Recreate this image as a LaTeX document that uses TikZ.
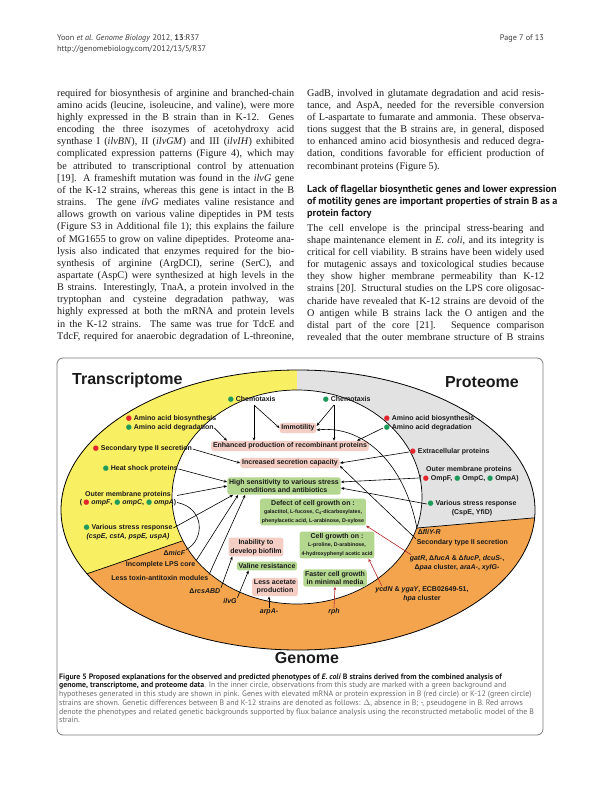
\documentclass[tikz,border=0pt]{standalone}
\usepackage{fontspec}
\setmainfont{Liberation Serif}
\newfontfamily\figsans{Liberation Sans}
\newfontfamily\capsans{PT Sans}
\newfontfamily\dotfont{DejaVu Sans}
\usetikzlibrary{arrows.meta,calc}
\definecolor{ink}{HTML}{1A1A1A}
\definecolor{trayellow}{HTML}{F9EF62}
\definecolor{progray}{HTML}{E2E2E2}
\definecolor{genorange}{HTML}{F4A44D}
\definecolor{hypopink}{HTML}{F4CEC4}
\definecolor{obsgreen}{HTML}{B3D78F}
\definecolor{dotred}{HTML}{E3262E}
\definecolor{dotgreen}{HTML}{1E9B5B}
\definecolor{fbared}{HTML}{B8262B}
\definecolor{framegray}{HTML}{7A7A7A}
\definecolor{capgray}{HTML}{6A6A6A}
% one justified line of the page text
\newcommand\jl[1]{\makebox[237pt][s]{\strut#1}}
\newcommand\rdot{{\dotfont\textcolor{dotred}{●}}}
\newcommand\gdot{{\dotfont\textcolor{dotgreen}{●}}}
\newcommand\subfig{\fontsize{5.3}{6.3}\selectfont}

\begin{document}
\begin{tikzpicture}[x=1pt, y=-1pt,
    arr/.style={-{Stealth[length=3.4pt,width=2.8pt]}, line width=0.6pt},
    fba/.style={arr, fbared},
    lab/.style={font=\figsans\bfseries\fontsize{7}{8.6}\selectfont, inner sep=0.6pt, align=center, text=ink},
    hypo/.style={lab, fill=hypopink, rounded corners=2.5pt, inner sep=1.8pt},
    obs/.style={lab, fill=obsgreen, rounded corners=2.5pt, inner sep=1.8pt},
    title/.style={font=\figsans\bfseries\fontsize{16}{18}\selectfont, inner sep=0pt, text=ink},
    body/.style={font=\fontsize{10.2}{12.15}\selectfont, inner sep=0pt, align=left, anchor=north west, text=ink},
    head/.style={font=\capsans\fontsize{8.2}{11}\selectfont, inner sep=0pt, text=ink!85}]
  % page 600 x 799
  \path[use as bounding box] (0,0) rectangle (600,799);

  % ================= running head =================
  \node[head, anchor=west] (hd1) at (57,38) {Yoon \textit{et al.} \textit{Genome Biology} 2012, \textbf{13}:R37};
  \node[head, anchor=west] (hd2) at (57,49) {http://genomebiology.com/2012/13/5/R37};
  \node[head, anchor=east] (hdp) at (544,38) {Page 7 of 13};

  % ================= left column =================
  \node[body] (colL) at (57,87.5) {%
    \jl{required for biosynthesis of arginine and branched-chain}\\
    \jl{amino acids (leucine, isoleucine, and valine), were more}\\
    \jl{highly expressed in the B strain than in K-12. Genes}\\
    \jl{encoding the three isozymes of acetohydroxy acid}\\
    \jl{synthase I (\textit{ilvBN}), II (\textit{ilvGM}) and III (\textit{ilvIH}) exhibited}\\
    \jl{complicated expression patterns (Figure 4), which may}\\
    \jl{be attributed to transcriptional control by attenuation}\\
    \jl{[19]. A frameshift mutation was found in the \textit{ilvG} gene}\\
    \jl{of the K-12 strains, whereas this gene is intact in the B}\\
    \jl{strains. The gene \textit{ilvG} mediates valine resistance and}\\
    \jl{allows growth on various valine dipeptides in PM tests}\\
    \jl{(Figure S3 in Additional file 1); this explains the failure}\\
    \jl{of MG1655 to grow on valine dipeptides. Proteome ana-}\\
    \jl{lysis also indicated that enzymes required for the bio-}\\
    \jl{synthesis of arginine (ArgDCI), serine (SerC), and}\\
    \jl{aspartate (AspC) were synthesized at high levels in the}\\
    \jl{B strains. Interestingly, TnaA, a protein involved in the}\\
    \jl{tryptophan and cysteine degradation pathway, was}\\
    \jl{highly expressed at both the mRNA and protein levels}\\
    \jl{in the K-12 strains. The same was true for TdcE and}\\
    \jl{TdcF, required for anaerobic degradation of L-threonine,}};

  % ================= right column =================
  \node[body] (colR) at (307,87.5) {%
    \jl{GadB, involved in glutamate degradation and acid resis-}\\
    \jl{tance, and AspA, needed for the reversible conversion}\\
    \jl{of L-aspartate to fumarate and ammonia. These observa-}\\
    \jl{tions suggest that the B strains are, in general, disposed}\\
    \jl{to enhanced amino acid biosynthesis and reduced degra-}\\
    \jl{dation, conditions favorable for efficient production of}\\
    \strut recombinant proteins (Figure 5).};
  \node[body, font=\capsans\bfseries\fontsize{10.2}{12}\selectfont] (sechd) at (307,183.6) {%
    \strut Lack of flagellar biosynthetic genes and lower expression\\
    of motility genes are important properties of strain B as a\\
    protein factory};
  \node[body] (colR2) at (307,222.5) {%
    \jl{The cell envelope is the principal stress-bearing and}\\
    \jl{shape maintenance element in \textit{E. coli}, and its integrity is}\\
    \jl{critical for cell viability. B strains have been widely used}\\
    \jl{for mutagenic assays and toxicological studies because}\\
    \jl{they show higher membrane permeability than K-12}\\
    \jl{strains [20]. Structural studies on the LPS core oligosac-}\\
    \jl{charide have revealed that K-12 strains are devoid of the}\\
    \jl{O antigen while B strains lack the O antigen and the}\\
    \jl{distal part of the core [21]. Sequence comparison}\\
    \jl{revealed that the outer membrane structure of B strains}};

  % ================= figure frame =================
  \draw[framegray, line width=0.8pt, rounded corners=6pt] (57,358) rectangle (543,735);

  % ================= rings: transcriptome / proteome / genome =================
  \begin{scope}
    \clip (298,510) ellipse [x radius=237pt, y radius=140pt];
    \fill[genorange] (40,340) rectangle (560,660);
    \fill[trayellow] (297,340) -- (297,497) -- (185,540) -- (40,590) -- (40,340) -- cycle;
    \fill[progray] (297,340) -- (297,497) -- (417,528) -- (560,515.6) -- (560,340) -- cycle;
    \draw[line width=0.7pt] (185,540) -- (40,590);
    \draw[line width=0.7pt] (417,528) -- (560,515.6);
  \end{scope}
  \fill[white] (297,497) ellipse [x radius=125pt, y radius=107pt];
  \draw[line width=0.7pt] (297,497) ellipse [x radius=125pt, y radius=107pt];
  \draw[line width=0.8pt] (298,510) ellipse [x radius=237pt, y radius=140pt];

  \node[title, anchor=west] (ttrans) at (72,380) {Transcriptome};
  \node[title, anchor=east] (tprot) at (519,382) {Proteome};
  \node[title] (tgen) at (307,658) {Genome};

  % ---- transcriptome side
  \node[lab, anchor=west] (cheL) at (227,399) {\gdot\ Chemotaxis};
  \node[lab, anchor=west] (aabL) at (125,419) {\rdot\ Amino acid biosynthesis};
  \node[lab, anchor=west] (aadL) at (125,428) {\gdot\ Amino acid degradation};
  \node[lab, anchor=west] (secL) at (92,449) {\rdot\ Secondary type II secretion};
  \node[lab, anchor=west] (hspL) at (102,469) {\gdot\ Heat shock proteins};
  \node[lab] (ompL) at (128,498.5) {Outer membrane proteins\\
    (\,\rdot\ \textit{ompF}, \gdot\ \textit{ompC}, \gdot\ \textit{ompA})};
  \node[lab] (strL) at (128,532) {\gdot\ Various stress response\\\textit{(cspE, cstA, pspE, uspA)}};

  % ---- proteome side
  \node[lab, anchor=west] (cheR) at (322,399) {\gdot\ Chemotaxis};
  \node[lab, anchor=west] (aabR) at (383,419) {\rdot\ Amino acid biosynthesis};
  \node[lab, anchor=west] (aadR) at (383,428) {\gdot\ Amino acid degradation};
  \node[lab, anchor=west] (extR) at (409,452) {\rdot\ Extracellular proteins};
  \node[lab] (ompR) at (469,474) {Outer membrane proteins\\(\,\rdot\ OmpF, \gdot\ OmpC, \gdot\ OmpA)};
  \node[lab] (strR) at (472,508) {\gdot\ Various stress response\\(CspE, YfiD)};

  % ---- genome ring
  \node[lab, anchor=east] (micF) at (186,553) {Δ\textit{micF}};
  \node[lab, anchor=east] (lps) at (196,565) {Incomplete LPS core};
  \node[lab, anchor=east] (tam) at (209,578) {Less toxin-antitoxin modules};
  \node[lab, anchor=east] (rcs) at (221,591) {Δ\textit{rcsABD}};
  \node[lab] (ilvG) at (230,601) {\textit{ilvG}};
  \node[lab] (arpA) at (269,612) {\textit{arpA-}};
  \node[lab] (rph) at (334,612) {\textit{rph}};
  \node[lab] (ycdN) at (422,594) {\textit{ycdN} \& \textit{ygaY}, ECB02649-51,\\\textit{hpa} cluster};
  \node[lab] (gatR) at (457,563) {\textit{gatR}, Δ\textit{fucA} \& Δ\textit{fucP}, \textit{dcuS-},\\Δ\textit{paa} cluster, \textit{araA-}, \textit{xylG-}};
  \node[lab, anchor=west] (secR) at (416,543) {Secondary type II secretion};
  \node[lab, anchor=west] (fliY) at (417,532) {Δ\textit{fliY-R}};

  % ---- inner circle: observations (green) and hypotheses (pink)
  \node[hypo] (immo) at (298,428) {Immotility};
  \node[hypo] (enh) at (290,446) {Enhanced production of recombinant proteins};
  \node[hypo] (inc) at (290,463) {Increased secretion capacity};
  \node[obs] (high) at (284,486) {High sensitivity to various stress\\conditions and antibiotics};
  \node[obs] (defect) at (313,512) {Defect of cell growth on :\\{\subfig galactitol, L-fucose, C\textsubscript{4}-dicarboxylates,}\\{\subfig phenylacetic acid, L-arabinose, D-xylose}};
  \node[hypo] (biofilm) at (256,547) {Inability to\\develop biofilm};
  \node[obs] (cgrow) at (337,545) {Cell growth on :\\{\subfig L-proline, D-arabinose,}\\{\subfig 4-hydroxyphenyl acetic acid}};
  \node[obs] (valine) at (267,566) {Valine resistance};
  \node[hypo] (acetate) at (275,587) {Less acetate\\production};
  \node[obs] (faster) at (335,578) {Faster cell growth\\in minimal media};

  % ---- connectors
  \coordinate (forkL) at (254,405);
  \coordinate (forkR) at (334,405);
  \draw[arr] (forkL) -- (forkL |- enh.north);
  \draw[arr] (forkL) -- (immo.west);
  \draw[arr] (forkR) -- (forkR |- enh.north);
  \draw[arr] (forkR) -- ([yshift=2pt]immo.east);
  \draw[arr] (aadL.east) -- ([xshift=16pt]enh.north west);
  \draw[arr] (aadR.west) -- ([xshift=-12pt]enh.north east);
  \draw[arr] (secL.east) -- (inc.west);
  \draw[arr] (extR.west) -- (inc.east);
  \draw[arr] (secR.north west) -- ([yshift=-3pt]inc.east);
  \draw[arr] (hspL.east) -- ([yshift=4pt]high.west);
  \draw[arr] ([yshift=3pt]ompL.east) -- (high.west);
  \draw[line width=0.6pt] ([yshift=-4pt]ompL.east) .. controls (205,508) and (205,540) .. (micF.north east);
  \draw[arr] ([yshift=4pt]strL.east) -- ([xshift=6pt]high.south west);
  \draw[arr] (lps.north east) -- ([xshift=11pt]high.south west);
  \draw[arr] (tam.north east) -- ([xshift=18pt]high.south west);
  \draw[arr] (rcs.north east) -- ([xshift=4pt]biofilm.south west);
  \draw[arr] (ilvG.north east) -- ([xshift=12pt]valine.south west);
  \draw[arr] (arpA.north) -- (arpA.north |- acetate.south);
  \draw[arr] ([yshift=-4pt]ompR.west) -- ([yshift=4pt]high.east);
  \draw[arr] ([yshift=4pt]strR.west) -- ([yshift=-2pt]high.east);
  \draw[arr] (fliY.north west) .. controls (405,465) and (365,425) .. ([yshift=-2pt]immo.east);
  % red: supported by flux balance analysis
  \draw[fba] (rph.north) -- (faster.south);
  \draw[fba] ([xshift=7pt]ycdN.north west) -- ([xshift=-6pt]cgrow.south east);
  \draw[fba] ([xshift=2pt]gatR.north west) -- (defect.south east);

  % ================= caption =================
  \node[body, font=\capsans\fontsize{7.85}{8.7}\selectfont, text=capgray] (caption) at (59,673) {%
    \strut\textcolor{ink}{\textbf{Figure 5 Proposed explanations for the observed and predicted phenotypes of \textit{E. coli} B strains derived from the combined analysis of}}\\
    \textcolor{ink}{\textbf{genome, transcriptome, and proteome data}}. In the inner circle, observations from this study are marked with a green background and\\
    hypotheses generated in this study are shown in pink. Genes with elevated mRNA or protein expression in B (red circle) or K-12 (green circle)\\
    strains are shown. Genetic differences between B and K-12 strains are denoted as follows: $\Delta$, absence in B; -, pseudogene in B. Red arrows\\
    denote the phenotypes and related genetic backgrounds supported by flux balance analysis using the reconstructed metabolic model of the B\\
    strain.};
\end{tikzpicture}
\end{document}
